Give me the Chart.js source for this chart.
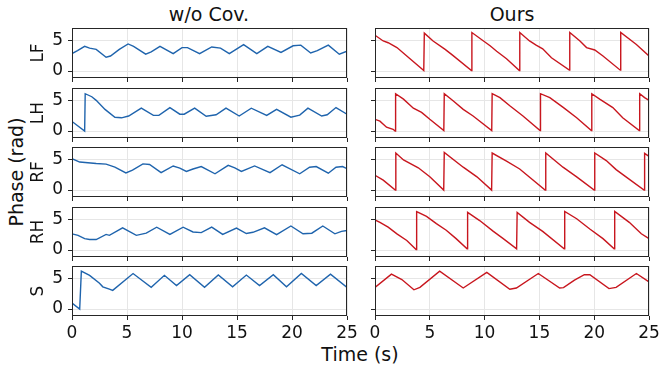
<!DOCTYPE html>
<html>
<head>
<meta charset="utf-8">
<script src="https://cdn.jsdelivr.net/npm/chart.js@4/dist/chart.umd.min.js"></script>
<style>
body{margin:0;background:#fff;width:662px;height:375px;position:relative;overflow:hidden;font-family:"DejaVu Sans",sans-serif}
canvas{position:absolute}
.lbl{position:absolute;color:#111;font-size:19px;line-height:22px;white-space:nowrap}
</style>
</head>
<body>
<div class="lbl" style="left:209px;top:3px;transform:translateX(-50%)">w/o Cov.</div>
<div class="lbl" style="left:512px;top:3px;transform:translateX(-50%)">Ours</div>
<div class="lbl" style="left:360px;top:343px;transform:translateX(-50%)">Time (s)</div>
<div class="lbl" style="left:16px;top:172px;transform:translate(-50%,-50%) rotate(-90deg)">Phase (rad)</div>

<canvas id="l0" width="365" height="60" style="left:0;top:24px"></canvas>
<canvas id="l1" width="365" height="60" style="left:0;top:84px"></canvas>
<canvas id="l2" width="365" height="60" style="left:0;top:143px"></canvas>
<canvas id="l3" width="365" height="60" style="left:0;top:203px"></canvas>
<canvas id="l4" width="365" height="80" style="left:0;top:262px"></canvas>
<canvas id="r0" width="307" height="60" style="left:355px;top:24px"></canvas>
<canvas id="r1" width="307" height="60" style="left:355px;top:84px"></canvas>
<canvas id="r2" width="307" height="60" style="left:355px;top:143px"></canvas>
<canvas id="r3" width="307" height="60" style="left:355px;top:203px"></canvas>
<canvas id="r4" width="307" height="80" style="left:355px;top:262px"></canvas>

<script>
// legs, top to bottom
var legs = ['LF', 'LH', 'RF', 'RH', 'S']

// w/o Cov. phase, [time (s), phase (rad)]
var wocovLF = [[0,2.9],[0.5,3.4],[1.15,4.1],[1.6,3.8],[2.2,3.6],[3.1,2.3],[3.5,2.5],[4.3,3.6],[5.1,4.5],[5.6,4.1],[6.7,2.8],[7.2,3.2],[8.0,4.1],[9.2,2.9],[10.0,3.9],[10.5,3.9],[11.6,2.9],[12.7,4.0],[13.5,3.8],[14.3,2.9],[15.6,4.4],[16.8,2.9],[17.8,4.1],[19.0,3.1],[20.1,4.2],[20.8,4.3],[21.7,3.0],[22.3,3.4],[23.3,4.3],[24.3,2.8],[25,3.3]]
var wocovLH = [[0,1.6],[1.15,0],[1.2,6.2],[1.8,5.7],[2.2,5.1],[3.0,3.6],[3.9,2.3],[4.5,2.2],[5.15,2.5],[6.3,3.8],[7.4,2.6],[7.9,2.6],[8.9,3.9],[9.8,2.8],[10.2,2.8],[11.15,3.8],[12.2,2.45],[13.1,2.7],[14.0,3.8],[15.2,2.5],[16.3,3.8],[17.7,2.6],[18.6,3.6],[19.9,2.3],[20.7,2.65],[21.45,3.8],[22.7,2.5],[23.2,2.7],[24.0,3.9],[25,2.8]]
var wocovRF = [[0,5.2],[0.7,4.65],[2.2,4.4],[3.1,4.3],[3.9,3.8],[4.9,2.85],[5.5,3.3],[6.45,4.35],[7.05,4.25],[8.1,2.9],[9.2,4.0],[9.8,3.65],[10.4,3.1],[11.0,3.5],[11.75,3.9],[13.0,2.7],[14.2,4.1],[14.8,3.7],[15.4,3.1],[16.6,4.0],[18.0,2.9],[19.1,4.2],[20.7,2.7],[21.6,3.8],[22.2,3.9],[23.3,2.8],[24.0,3.8],[24.6,3.9],[25,3.55]]
var wocovRH = [[0,2.7],[0.55,2.45],[1.15,1.9],[1.6,1.75],[2.2,1.75],[3.1,2.6],[3.4,2.45],[4.6,3.7],[5.85,2.45],[6.75,2.8],[7.7,3.8],[8.9,2.6],[10.1,3.8],[11.0,3.0],[11.75,2.9],[12.7,3.8],[13.7,2.6],[14.95,3.65],[15.85,2.75],[16.45,2.95],[17.5,3.7],[18.6,2.55],[19.9,4.0],[21.0,2.7],[21.8,2.8],[22.8,4.0],[23.9,2.7],[24.5,3.1],[25,3.25]]
var wocovS = [[0,1.0],[0.7,0],[0.85,6.3],[1.6,5.6],[2.5,4.3],[2.8,3.7],[3.4,3.3],[3.7,3.1],[5.55,5.9],[7.2,3.6],[8.4,5.6],[9.5,3.9],[10.7,5.7],[12.05,3.6],[13.3,5.65],[14.6,3.7],[15.85,5.65],[17.05,3.9],[18.3,5.7],[19.5,3.7],[20.85,5.9],[22.2,3.9],[23.5,5.8],[25,3.6]]

// Ours phase
var oursLF = [[0,5.95],[0.75,5.0],[1.2,4.7],[2.0,3.9],[2.9,2.5],[4.45,0.1],[4.5,6.3],[5.3,5.0],[6.4,3.6],[7.1,2.6],[8.8,0.1],[8.84,6.4],[9.9,5.0],[10.5,4.2],[11.1,3.3],[12.0,2.05],[13.17,0.1],[13.21,6.4],[14.1,5.0],[14.7,4.3],[15.3,3.7],[16.1,2.2],[17.73,0.15],[17.77,6.4],[18.7,5.0],[19.3,3.9],[20.05,3.5],[20.8,2.5],[22.38,0.15],[22.42,6.4],[23.85,4.4],[25,2.5]]
var oursLH = [[0,1.95],[0.45,1.65],[1.05,0.65],[1.65,0.3],[1.84,0],[1.88,6.2],[2.6,5.3],[3.5,3.8],[4.25,3.1],[5.0,1.95],[6.28,0.1],[6.32,6.2],[7.15,5.0],[8.05,3.6],[8.95,2.5],[10.65,0.1],[10.69,6.2],[11.4,5.55],[12.3,4.2],[13.5,2.5],[15.06,0.1],[15.1,6.2],[15.95,5.55],[17.2,3.9],[18.4,2.2],[19.74,0.1],[19.78,6.2],[20.5,5.3],[21.7,3.9],[22.6,2.2],[24.11,0.1],[24.15,6.2],[24.6,5.55],[25,5.1]]
var oursRF = [[0,2.45],[0.75,1.65],[1.85,0],[1.9,6.15],[2.6,5.0],[3.95,3.7],[5.0,2.2],[6.27,0],[6.32,6.25],[8.05,3.8],[9.3,2.2],[10.64,0],[10.69,6.15],[12.0,4.8],[13.2,3.5],[15.52,0],[15.58,6.15],[17.15,3.8],[18.4,2.2],[20.0,0],[20.05,6.15],[21.1,4.9],[22.0,3.4],[22.9,2.2],[24.55,0],[24.6,6.1],[25,5.6]]
var oursRH = [[0,5.0],[0.45,4.6],[1.2,3.8],[2.0,2.7],[2.9,1.6],[3.75,0.1],[3.8,6.4],[4.7,5.6],[5.6,4.4],[6.5,3.3],[7.4,1.9],[8.4,0.2],[8.45,6.25],[9.55,4.9],[10.8,3.1],[11.7,1.9],[12.92,0.2],[12.97,6.25],[14.1,4.6],[15.3,3.1],[17.26,0.2],[17.31,6.4],[18.4,5.2],[19.6,3.5],[20.8,1.9],[21.82,0.2],[21.87,6.4],[23.2,4.6],[24.3,2.7],[25,1.9]]
var oursS = [[0,3.6],[1.5,5.8],[2.45,4.9],[3.55,3.2],[4.1,3.6],[5.9,6.3],[8.05,3.5],[10.2,6.1],[12.3,3.3],[12.9,3.5],[14.9,5.9],[16.85,3.5],[17.2,3.55],[18.2,4.8],[19.1,5.7],[19.6,5.7],[21.35,3.4],[22.0,3.6],[23.85,5.9],[25,4.5]]

var wocov = [wocovLF, wocovLH, wocovRF, wocovRH, wocovS]
var ours = [oursLF, oursLH, oursRF, oursRH, oursS]

var yTicks = [0, 5]
var xTicks = [0, 5, 10, 15, 20, 25]

var font = 'DejaVu Sans'
var gridColor = '#e6e6e6'
var spineColor = '#262626'

// box round the plot area, like matplotlib spines
var frame = {
	id: 'frame',
	afterDraw: function(chart) {
		var a = chart.chartArea, ctx = chart.ctx
		ctx.save()
		ctx.strokeStyle = spineColor
		ctx.lineWidth = 1
		ctx.strokeRect(Math.round(a.left) + 0.5, Math.round(a.top) + 0.5, Math.round(a.right - a.left) - 1, Math.round(a.bottom - a.top) - 1)
		ctx.restore()
	}
}

function panel(id, rows, color, row, left) {
	var last = row == 4
	new Chart(document.getElementById(id).getContext('2d'), {
		type: 'line',
		data: {
			datasets: [{
				data: rows,
				borderColor: color,
				borderWidth: 1.4,
				pointRadius: 0,
				tension: 0,
				fill: false
			}]
		},
		options: {
			responsive: false,
			animation: false,
			devicePixelRatio: 1,
			layout: { padding: { top: 4, left: 0, bottom: 0, right: left ? 18 : 13 } },
			plugins: { legend: { display: false }, tooltip: { enabled: false } },
			scales: {
				x: {
					type: 'linear',
					min: 0, max: 25,
					afterBuildTicks: function(s) { s.ticks = xTicks.map(function(v) { return { value: v } }) },
					afterFit: function(s) {
						s.height = last ? 26 : 6
						s.paddingLeft = 0; s.paddingRight = 0
					},
					border: { display: false },
					grid: { color: gridColor, tickColor: spineColor, tickLength: 4, lineWidth: 1 },
					ticks: { display: last, color: '#111', padding: 3, maxRotation: 0, font: { family: font, size: 17 } }
				},
				y: {
					min: -1.15, max: 7.15,
					afterBuildTicks: function(s) { s.ticks = yTicks.map(function(v) { return { value: v } }) },
					afterFit: function(s) {
						s.width = left ? 72 : 20
						s.paddingTop = 0; s.paddingBottom = 0
					},
					border: { display: false },
					grid: { color: gridColor, tickColor: spineColor, tickLength: 4, lineWidth: 1 },
					ticks: { display: left, color: '#111', padding: 5, font: { family: font, size: 17 } },
					title: { display: left, text: legs[row], color: '#111', padding: { top: 28, bottom: 0 }, font: { family: font, size: 17, lineHeight: 1.2 } }
				}
			}
		},
		plugins: [frame]
	})
}

for (var i = 0; i < 5; i++) {
	panel('l' + i, wocov[i], '#1f64ad', i, true)
	panel('r' + i, ours[i], '#c8161e', i, false)
}
</script>
</body>
</html>
